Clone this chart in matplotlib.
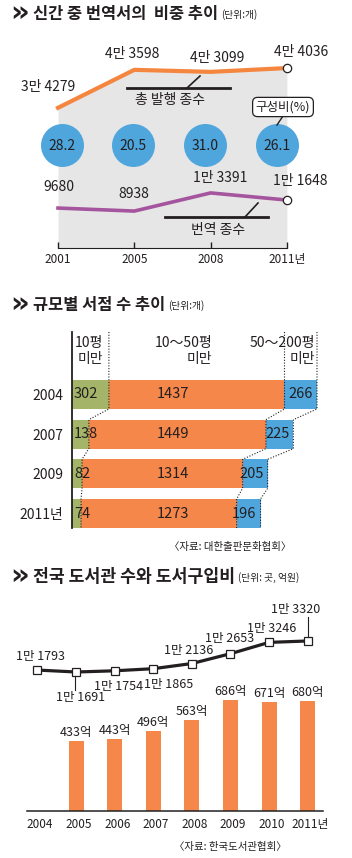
import matplotlib
matplotlib.use("Agg")
import matplotlib.pyplot as plt
import matplotlib.transforms as mtrans
import numpy as np

plt.rcParams["font.family"] = ["Noto Sans CJK KR", "DejaVu Sans"]
plt.rcParams["text.color"] = "#231f20"
plt.rcParams["xtick.color"] = "#231f20"
plt.rcParams["ytick.color"] = "#231f20"

# 신간 중 번역서의 비중
years1 = ["2001", "2005", "2008", "2011년"]
total_books = [34279, 43598, 43099, 44036]
trans_books = [9680, 8938, 13391, 11648]
share = ["28.2", "20.5", "31.0", "26.1"]
total_labels = ["3만 4279", "4만 3598", "4만 3099", "4만 4036"]
trans_labels = ["9680", "8938", "1만 3391", "1만 1648"]

# 규모별 서점 수
years2 = ["2004", "2007", "2009", "2011년"]
shop_small = [302, 138, 82, 74]
shop_mid = [1437, 1449, 1314, 1273]
shop_large = [266, 225, 205, 196]

# 전국 도서관 수와 도서구입비
years3 = ["2004", "2005", "2006", "2007", "2008", "2009", "2010", "2011년"]
libraries = [11793, 11691, 11754, 11865, 12136, 12653, 13246, 13320]
lib_labels = ["1만 1793", "1만 1691", "1만 1754", "1만 1865",
              "1만 2136", "1만 2653", "1만 3246", "1만 3320"]
budget = [433, 443, 496, 563, 686, 671, 680]  # 2005~2011

W, H = 352, 858
INK = "#231f20"
ORANGE = "#f5874a"
BLUE = "#4fa6dd"
GREEN = "#a4b56a"
PURPLE = "#a5559e"

fig = plt.figure(figsize=(W / 100, H / 100), dpi=100)


def add_ax(x0, y0, x1, y1):
    ax = fig.add_axes([x0 / W, 1 - y1 / H, (x1 - x0) / W, (y1 - y0) / H])
    for s in ax.spines.values():
        s.set_visible(False)
    ax.set_facecolor("none")
    return ax


def px(v):
    # pixel -> points
    return v * 0.72


# ---------- 1. 신간 중 번역서 ----------
ax1 = add_ax(0, 40, W, 270)
x1 = np.arange(len(years1))
ax1.set_xlim(-58 / 76.3, (W - 58) / 76.3)
ax1.set_ylim(-(270 - 247.5) * 245.4, (247.5 - 40) * 245.4)
ax1.fill_between(x1, total_books, 0, color="#e6e6e6", lw=0, zorder=0)
ax1.plot(x1, total_books, color="#f58640", lw=3, zorder=2)
ax1.plot(x1, trans_books, color=PURPLE, lw=2.6, zorder=2)
ax1.plot(x1[-1], total_books[-1], "o", ms=6, mfc="white", mec=INK, mew=0.9, zorder=3)
ax1.plot(x1[-1], trans_books[-1], "o", ms=6, mfc="white", mec=INK, mew=0.9, zorder=3)

cx = 0.046 + 0.94 * x1
ax1.scatter(cx, [25150] * 4, s=958, color=BLUE, lw=0, zorder=4)
for x, s in zip(cx, share):
    ax1.text(x, 25000, s, ha="center", va="center", fontsize=10, zorder=5)

tot_off = [(-10, 21), (-2, 16), (7, 14), (14, 16)]
for i, (lab, off) in enumerate(zip(total_labels, tot_off)):
    ax1.annotate(lab, (i, total_books[i]), xytext=(px(off[0]), px(off[1])),
                 textcoords="offset points", ha="center", va="center", fontsize=10)
tr_off = [(1, 21), (0, 17), (10, 15), (13, 19)]
for i, (lab, off) in enumerate(zip(trans_labels, tr_off)):
    ax1.annotate(lab, (i, trans_books[i]), xytext=(px(off[0]), px(off[1])),
                 textcoords="offset points", ha="center", va="center", fontsize=10)

ax1.spines["bottom"].set_visible(True)
ax1.spines["bottom"].set_position(("data", 0))
ax1.spines["bottom"].set_bounds(0, 3)
ax1.spines["bottom"].set_color(INK)
ax1.set_xticks(x1, years1)
ax1.tick_params(axis="x", direction="in", length=4, width=1, labelsize=8.5, pad=4)
ax1.set_yticks([])

# ---------- 2. 규모별 서점 수 ----------
ax2 = add_ax(72, 330, W, 533)
unit = 2005 / 245
ax2.set_xlim(0, (W - 72) * unit)
ax2.set_ylim(3 + (533 - 513.5) / 39.7, -(394.5 - 330) / 39.7)
y2 = np.arange(len(years2))
b1 = np.array(shop_small)
b2 = b1 + np.array(shop_mid)
b3 = b2 + np.array(shop_large)
h = 0.73
ax2.barh(y2, shop_small, height=h, color=GREEN, lw=0)
ax2.barh(y2, shop_mid, left=b1, height=h, color=ORANGE, lw=0)
ax2.barh(y2, shop_large, left=b2, height=h, color=BLUE, lw=0)

for b in (b1, b2, b3):
    xs = [b[0]]
    ys = [-1.575]
    for i in range(len(b)):
        xs += [b[i], b[i]]
        ys += [i - h / 2, i + h / 2]
    ax2.plot(xs, ys, color=INK, lw=0.8, ls=(0, (1, 1.5)), zorder=3)

for i in range(len(years2)):
    ax2.annotate(str(shop_small[i]), (0, i), xytext=(1.5, 0), textcoords="offset points",
                 ha="left", va="center", fontsize=10.5, zorder=4)
    ax2.text(101 * unit, i, str(shop_mid[i]), ha="center", va="center", fontsize=10.5)
    ax2.annotate(str(shop_large[i]), (b3[i], i), xytext=(-3, 0), textcoords="offset points",
                 ha="right", va="center", fontsize=10.5, zorder=4)

ax2.spines["left"].set_visible(True)
ax2.spines["left"].set_bounds(-1.575, 3.365)
ax2.spines["left"].set_linewidth(1.3)
ax2.spines["left"].set_color(INK)
ax2.set_yticks(y2, years2)
ax2.tick_params(axis="y", length=0, labelsize=10, pad=6.5)
ax2.set_xticks([])

# ---------- 3. 도서관 수, 도서구입비 ----------
ax3 = add_ax(0, 595, W, 811)
step = 38.6
x3 = np.arange(len(years3))
ax3.set_xlim(-37.5 / step, (W - 37.5) / step)
ax3.set_ylim(0, (811 - 595) * 6.18)
ax3.bar(x3[1:], budget, width=15 / step, color=ORANGE, lw=0)
for xi, v in zip(x3[1:], budget):
    ax3.annotate(f"{v}억", (xi, v), xytext=(0, px(8.5)), textcoords="offset points",
                 ha="center", va="center", fontsize=9)
ax3.spines["bottom"].set_visible(True)
ax3.spines["bottom"].set_bounds(-0.272, 7.395)
ax3.spines["bottom"].set_color(INK)
ax3.spines["bottom"].set_linewidth(1.1)
ax3.set_xticks(x3, years3)
ax3.tick_params(axis="x", length=0, labelsize=8.5, pad=5)
ax3.set_yticks([])
shift = mtrans.ScaledTranslation(2.5 / 100, 0, fig.dpi_scale_trans)
for lab in ax3.get_xticklabels():
    lab.set_transform(lab.get_transform() + shift)

ax3b = ax3.twinx()
for s in ax3b.spines.values():
    s.set_visible(False)
ax3b.set_ylim(11691 - 139 * 52.5, 11691 + 77 * 52.5)
ax3b.set_yticks([])
ax3b.plot(x3, libraries, color=INK, lw=2.3, marker="s", ms=5.5, mfc="white", mec=INK, mew=0.9)
lib_off = [(3, 14), (4, -26), (4, -16), (15, -16), (-3, 13), (-1, 15), (3, 14), (-12, 31)]
for i, (lab, off) in enumerate(zip(lib_labels, lib_off)):
    ax3b.annotate(lab, (i, libraries[i]), xytext=(px(off[0]), px(off[1])),
                  textcoords="offset points", ha="center", va="center", fontsize=9)

# ---------- overlay: titles, notes ----------
ov = fig.add_axes([0, 0, 1, 1])
ov.set_xlim(0, W)
ov.set_ylim(H, 0)
ov.axis("off")
renderer = fig.canvas.get_renderer()


def title(y, main, size, unit_txt):
    ov.text(10, y - 1, "»", fontsize=21, fontweight="bold", family="DejaVu Sans",
            ha="left", va="center")
    t = ov.text(33, y, main, fontsize=size, fontweight="bold", ha="left", va="center")
    end = t.get_window_extent(renderer).x1
    ov.text(end + 3, y + 1, unit_txt, fontsize=7, ha="left", va="center")


title(14, "신간 중 번역서의  비중 추이", 11.8, "(단위:개)")
title(305, "규모별 서점 수 추이", 11.8, "(단위:개)")
title(577, "전국 도서관 수와 도서구입비", 12.4, "(단위: 곳, 억원)")

ov.plot([127, 230], [88, 88], color=INK, lw=2)
ov.plot([187, 200], [88, 76], color=INK, lw=1.2)
ov.text(170, 100, "총 발행 종수", fontsize=10, ha="center", va="center")
ov.plot([165, 268], [217, 217], color=INK, lw=2)
ov.plot([245, 258], [217, 203], color=INK, lw=1.2)
ov.text(218, 230, "번역 종수", fontsize=10, ha="center", va="center")
ov.plot([283, 277], [116, 125], color=INK, lw=1)
ov.text(283, 107, "구성비(%)", fontsize=9, ha="center", va="center",
        bbox=dict(boxstyle="round,pad=0.25,rounding_size=0.4", fc="white", ec=INK, lw=0.9))

ov.text(103, 351, "10평\n미만", fontsize=10, ha="right", va="center",
        multialignment="right", linespacing=1.15)
ov.text(212, 351, "10～50평\n미만", fontsize=10, ha="right", va="center",
        multialignment="right", linespacing=1.15)
ov.text(315, 351, "50～200평\n미만", fontsize=10, ha="right", va="center",
        multialignment="right", linespacing=1.15)

ov.text(230, 547, "〈자료: 대한출판문화협회〉", fontsize=7.5, ha="center", va="center")
ov.text(230, 847, "〈자료: 한국도서관협회〉", fontsize=7.5, ha="center", va="center")

ov.plot([75, 75], [676, 690], color=INK, lw=0.8)
ov.plot([308, 308], [637, 617], color=INK, lw=0.8)

fig.savefig("out.png", dpi=100)
